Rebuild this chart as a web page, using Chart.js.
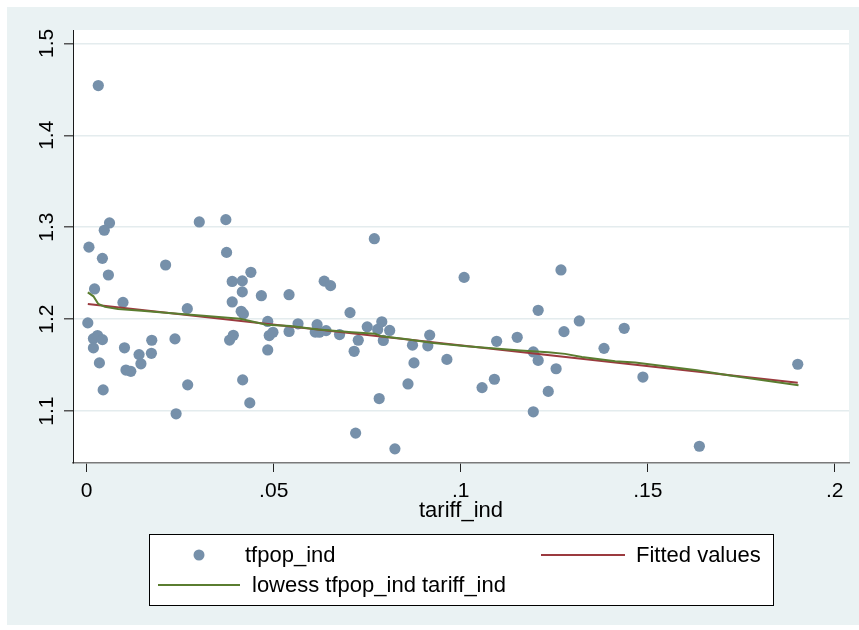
<!DOCTYPE html>
<html>
<head>
<meta charset="utf-8">
<script src="https://cdn.jsdelivr.net/npm/chart.js@4.4.1/dist/chart.umd.min.js"></script>
<style>
  html, body { margin: 0; padding: 0; background: #ffffff; }
  canvas { display: block; }
</style>
</head>
<body>
<canvas id="chart" width="859" height="630"></canvas>
<script>
// scatter: tariff_ind (x) vs tfpop_ind (y)
const tariffInd = [
    0.0031, 0.0061, 0.0047, 0.0006, 0.0042, 0.0211, 0.0058, 0.0021, 0.0097, 0.0003,
    0.0018, 0.0029, 0.0042, 0.0018, 0.0101, 0.0174, 0.0140, 0.0173, 0.0145, 0.0034,
    0.0105, 0.0118, 0.0044, 0.0236, 0.0239, 0.0301, 0.0372, 0.0374, 0.0439, 0.0389,
    0.0416, 0.0416, 0.0467, 0.0541, 0.0269, 0.0389, 0.0413, 0.0419, 0.0484, 0.0488,
    0.0498, 0.0541, 0.0382, 0.0392, 0.0484, 0.0270, 0.0417, 0.0436, 0.0769, 0.0635,
    0.0652, 0.0704, 0.0565, 0.0616, 0.0611, 0.0622, 0.0640, 0.0676, 0.0726, 0.0715,
    0.0750, 0.0778, 0.0789, 0.0810, 0.0793, 0.0782, 0.0719, 0.0824, 0.0859, 0.0875,
    0.0871, 0.0912, 0.0917, 0.0963, 0.1009, 0.1057, 0.1090, 0.1096, 0.1151, 0.1194,
    0.1207, 0.1207, 0.1194, 0.1234, 0.1255, 0.1268, 0.1276, 0.1317, 0.1383, 0.1437,
    0.1487, 0.1638, 0.1901
];
const tfpopInd = [
    1.4541, 1.3046, 1.2967, 1.2783, 1.2661, 1.2589, 1.2480, 1.2328, 1.2182, 1.1959,
    1.1788, 1.1821, 1.1777, 1.1687, 1.1688, 1.1770, 1.1614, 1.1628, 1.1514, 1.1524,
    1.1446, 1.1432, 1.1230, 1.1785, 1.0970, 1.3057, 1.3082, 1.2726, 1.2509, 1.2410,
    1.2416, 1.2296, 1.2255, 1.2266, 1.2114, 1.2187, 1.2085, 1.2057, 1.1975, 1.1821,
    1.1857, 1.1866, 1.1772, 1.1824, 1.1665, 1.1285, 1.1339, 1.1089, 1.2875, 1.2413,
    1.2364, 1.2071, 1.1949, 1.1940, 1.1859, 1.1857, 1.1875, 1.1832, 1.1770, 1.1650,
    1.1916, 1.1888, 1.1971, 1.1877, 1.1768, 1.1136, 1.0760, 1.0589, 1.1295, 1.1524,
    1.1717, 1.1710, 1.1826, 1.1562, 1.2454, 1.1255, 1.1346, 1.1759, 1.1802, 1.1643,
    1.1551, 1.2096, 1.0992, 1.1214, 1.1460, 1.2535, 1.1864, 1.1980, 1.1682, 1.1900,
    1.1370, 1.0617, 1.1509
];

// linear fit, end points
const fitX = [0.0003, 0.1901];
const fitY = [1.2165, 1.1307];

// lowess curve
const lowessX = [
    0.0003, 0.0018, 0.0031, 0.0049, 0.0084, 0.0147, 0.0236, 0.0312, 0.0410, 0.0481,
    0.0544, 0.0619, 0.0709, 0.0771, 0.0789, 0.0851, 0.0927, 0.1016, 0.1159, 0.1234,
    0.1279, 0.1324, 0.1413, 0.1466, 0.1631, 0.1720, 0.1809, 0.1903
];
const lowessY = [
    1.2291, 1.2248, 1.2165, 1.2133, 1.2111, 1.2092, 1.2060, 1.2038, 1.2005, 1.1940,
    1.1926, 1.1886, 1.1857, 1.1842, 1.1813, 1.1785, 1.1741, 1.1704, 1.1658, 1.1639,
    1.1622, 1.1589, 1.1541, 1.1528, 1.1443, 1.1386, 1.1335, 1.1280
];

const xTicks = [0, 0.05, 0.1, 0.15, 0.2];
const xTickLabels = ['0', '.05', '.1', '.15', '.2'];
const yTicks = [1.1, 1.2, 1.3, 1.4, 1.5];
const yTickLabels = ['1.1', '1.2', '1.3', '1.4', '1.5'];
const seriesNames = ['tfpop_ind', 'Fitted values', 'lowess tfpop_ind tariff_ind'];
const xTitle = 'tariff_ind';

const FONT = "'Liberation Sans', Arial, sans-serif";
const COLORS = {
    region: '#eaf2f3',
    grid: '#e4ecee',
    marker: '#7690aa',
    fit: '#9b3a3f',
    lowess: '#5a7d30',
    text: '#000000'
};

function toPoints(xs, ys) {
    return xs.map((x, i) => ({ x: x, y: ys[i] }));
}

// Stata-like graph region behind the plot
const backdrop = {
    id: 'backdrop',
    beforeDraw(chart) {
        const { ctx, chartArea } = chart;
        ctx.save();
        ctx.fillStyle = '#ffffff';
        ctx.fillRect(0, 0, chart.width, chart.height);
        ctx.fillStyle = COLORS.region;
        ctx.fillRect(7, 7, chart.width - 7, 618);
        ctx.fillStyle = '#ffffff';
        ctx.fillRect(chartArea.left, chartArea.top,
            chartArea.right - chartArea.left, chartArea.bottom - chartArea.top);
        ctx.restore();
    }
};

// rotated y labels, x title and the boxed legend
const extras = {
    id: 'extras',
    afterDraw(chart) {
        const { ctx, chartArea } = chart;
        const yScale = chart.scales.y;
        ctx.save();
        ctx.fillStyle = COLORS.text;
        ctx.font = '21px ' + FONT;

        yTicks.forEach((v, i) => {
            const py = yScale.getPixelForValue(v);
            ctx.save();
            ctx.translate(53, py);
            ctx.rotate(-Math.PI / 2);
            ctx.textAlign = 'center';
            ctx.textBaseline = 'alphabetic';
            ctx.fillText(yTickLabels[i], 0, 0);
            ctx.restore();
        });

        ctx.font = '22px ' + FONT;
        ctx.textAlign = 'center';
        ctx.textBaseline = 'alphabetic';
        ctx.fillText(xTitle, (chartArea.left + chartArea.right) / 2, 517);

        // legend box
        ctx.fillStyle = '#ffffff';
        ctx.fillRect(149, 534, 624, 71);
        ctx.strokeStyle = '#000000';
        ctx.lineWidth = 1;
        ctx.strokeRect(149.5, 534.5, 624, 71);

        const ds = chart.data.datasets;
        ctx.fillStyle = COLORS.marker;
        ctx.beginPath();
        ctx.arc(199, 555, 5.5, 0, Math.PI * 2);
        ctx.fill();

        ctx.lineWidth = 2;
        ctx.strokeStyle = COLORS.fit;
        ctx.beginPath();
        ctx.moveTo(541, 555);
        ctx.lineTo(625, 555);
        ctx.stroke();

        ctx.strokeStyle = COLORS.lowess;
        ctx.beginPath();
        ctx.moveTo(158, 585);
        ctx.lineTo(240, 585);
        ctx.stroke();

        ctx.fillStyle = COLORS.text;
        ctx.textAlign = 'left';
        ctx.fillText(ds[0].label, 245, 562);
        ctx.fillText(ds[1].label, 636, 562);
        ctx.fillText(ds[2].label, 252, 592);
        ctx.restore();
    }
};

new Chart(document.getElementById('chart').getContext('2d'), {
    type: 'scatter',
    data: {
        datasets: [{
            label: seriesNames[0],
            data: toPoints(tariffInd, tfpopInd),
            backgroundColor: COLORS.marker,
            borderWidth: 0,
            pointRadius: 5.6,
            order: 3
        }, {
            label: seriesNames[1],
            data: toPoints(fitX, fitY),
            showLine: true,
            borderColor: COLORS.fit,
            borderWidth: 2,
            pointRadius: 0,
            order: 2
        }, {
            label: seriesNames[2],
            data: toPoints(lowessX, lowessY),
            showLine: true,
            borderColor: COLORS.lowess,
            borderWidth: 2,
            pointRadius: 0,
            tension: 0,
            order: 1
        }]
    },
    options: {
        responsive: false,
        devicePixelRatio: 1,
        animation: false,
        layout: { padding: { left: 0, top: 30, right: 10, bottom: 0 } },
        plugins: {
            legend: { display: false },
            tooltip: { enabled: false }
        },
        scales: {
            x: {
                type: 'linear',
                min: -0.00366,
                max: 0.2038,
                afterBuildTicks: (scale) => { scale.ticks = xTicks.map(v => ({ value: v })); },
                afterFit: (scale) => { scale.height = 167; },
                grid: {
                    drawOnChartArea: false,
                    tickLength: 9,
                    tickColor: '#222222',
                    tickWidth: 1
                },
                border: { color: '#7a7a7a', width: 1.5 },
                ticks: {
                    padding: 7,
                    color: COLORS.text,
                    font: { family: FONT, size: 21 },
                    maxRotation: 0,
                    callback: (v, i) => xTickLabels[i]
                }
            },
            y: {
                type: 'linear',
                min: 1.0435,
                max: 1.5145,
                afterBuildTicks: (scale) => { scale.ticks = yTicks.map(v => ({ value: v })); },
                afterFit: (scale) => { scale.width = 73; },
                grid: {
                    color: COLORS.grid,
                    lineWidth: 1.5,
                    tickLength: 9,
                    tickColor: '#555555',
                    tickWidth: 1.5
                },
                border: { color: '#1a1a1a', width: 1 },
                ticks: {
                    display: true,
                    callback: () => ''
                }
            }
        }
    },
    plugins: [backdrop, extras]
});
</script>
</body>
</html>
